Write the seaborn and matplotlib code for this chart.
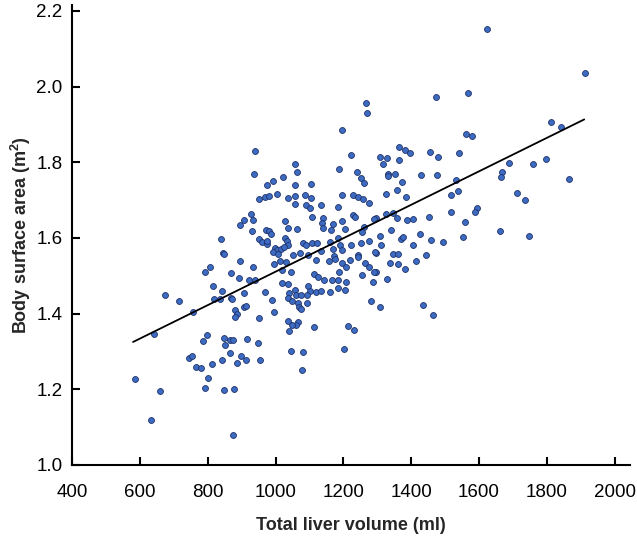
import matplotlib
matplotlib.use("Agg")
import matplotlib.pyplot as plt
import seaborn as sns
import pandas as pd

# Total liver volume (ml)
volume = [
    1268, 1271, 1195, 939, 1222, 1056,
    1622, 1473, 1568, 1561, 1579, 1365, 1382, 1397, 1454, 1478, 1541, 1309, 1328, 1365, 1317,
    1912, 1812, 1842, 1797, 1759, 1687,
    1866, 1711, 1736, 1747,
    1333, 1333, 1351, 1428, 1477, 1372, 1531, 1357, 1327, 1385, 1517, 1538, 1667, 1665, 1595,
    1587, 1517, 1295, 1327, 1346, 1358, 1387, 1406, 1453, 1559, 1340, 1307, 1369, 1377, 1426,
    1458, 1495, 1554, 1661, 1310, 1404, 1295, 1346, 1362, 1443, 1337, 1360, 1415, 1382, 1297,
    1329, 1307, 1436, 1464,
    906, 896, 838, 844, 847, 895, 808, 792, 868, 893, 817, 842, 906, 673, 716, 820, 837, 868,
    873, 908, 756, 880, 885, 880,
    641, 798, 786, 848, 865, 876, 852, 867, 897, 912, 886, 841, 814, 744, 755, 766, 780, 800,
    585, 659, 793, 849, 879, 632, 876,
    1036, 1067, 1059, 1050, 1039, 1113, 1213, 1230, 917, 947, 1045, 1080, 1203, 955, 1078,
    1062, 1186, 1241, 1253, 1260, 938, 1022, 994, 976, 1056, 1104, 952, 969, 981, 1003, 1038,
    1057, 1087, 1104, 1197, 1227, 1243, 1258, 1277, 1058, 1089, 1101, 1134, 1185, 927, 935,
    1028, 1109, 1141, 1170, 1138, 1196, 1227, 1233, 1290, 1038, 1063, 1140, 1163, 1204, 1261,
    1254, 930, 973, 981, 987, 1028, 950, 961, 974, 976, 1034, 1037, 1082, 1090, 1109, 1123,
    1160, 1185, 1190, 1224, 1251, 1276, 998, 1005, 1017, 1025, 994, 1007, 1053, 1073, 1095,
    1133, 1169, 1196, 1171, 1243, 1292, 933, 997, 1012, 1032, 1020, 1045, 1119, 1157, 1175,
    1197, 1220, 1243, 1265, 1276, 1289, 1208, 1188, 1113, 1126, 1142, 1166, 1185, 1209, 1256,
    1286, 922, 939, 1019, 1038, 1096, 1102, 1120, 1133, 1161, 1183, 1206, 970, 1039, 1056,
    1060, 1075, 1093, 1037, 1050, 1066, 1070, 1075, 1093, 991, 997, 1281, 912, 952,
]

# Body surface area (m2)
bsa = [
    1.957, 1.931, 1.886, 1.830, 1.818, 1.796,
    2.153, 1.973, 1.984, 1.875, 1.869, 1.840, 1.831, 1.824, 1.826, 1.815, 1.824, 1.813, 1.810, 1.806, 1.796,
    2.035, 1.905, 1.892, 1.808, 1.796, 1.798,
    1.756, 1.719, 1.699, 1.604,
    1.769, 1.763, 1.769, 1.767, 1.765, 1.747, 1.752, 1.727, 1.717, 1.707, 1.713, 1.723, 1.773, 1.760, 1.678,
    1.668, 1.668, 1.653, 1.663, 1.665, 1.653, 1.646, 1.651, 1.654, 1.642, 1.620, 1.606, 1.598, 1.602, 1.609,
    1.595, 1.588, 1.603, 1.618, 1.581, 1.580, 1.560, 1.557, 1.557, 1.554, 1.534, 1.531, 1.538, 1.517, 1.510,
    1.492, 1.418, 1.423, 1.395,
    1.646, 1.635, 1.596, 1.560, 1.557, 1.539, 1.523, 1.509, 1.507, 1.494, 1.474, 1.460, 1.454, 1.450, 1.432, 1.438, 1.438, 1.441,
    1.438, 1.417, 1.405, 1.409, 1.400, 1.392,
    1.345, 1.344, 1.328, 1.335, 1.330, 1.330, 1.317, 1.297, 1.288, 1.278, 1.269, 1.278, 1.266, 1.284, 1.287, 1.258, 1.256, 1.229,
    1.228, 1.196, 1.203, 1.198, 1.200, 1.118, 1.080,
    1.380, 1.378, 1.369, 1.369, 1.353, 1.365, 1.368, 1.357, 1.333, 1.322, 1.301, 1.298, 1.306, 1.278, 1.250,
    1.775, 1.781, 1.773, 1.759, 1.745, 1.769, 1.760, 1.751, 1.739, 1.741, 1.742, 1.703, 1.709, 1.712, 1.716, 1.706,
    1.712, 1.714, 1.705, 1.714, 1.713, 1.708, 1.703, 1.691, 1.689, 1.687, 1.678, 1.688, 1.681, 1.664, 1.646,
    1.644, 1.654, 1.653, 1.638, 1.639, 1.645, 1.660, 1.654, 1.651, 1.626, 1.623, 1.626, 1.622, 1.624, 1.630,
    1.615, 1.617, 1.622, 1.617, 1.610, 1.601, 1.596, 1.589, 1.585, 1.593, 1.591, 1.580, 1.587, 1.580, 1.586, 1.587,
    1.589, 1.599, 1.582, 1.582, 1.586, 1.593, 1.573, 1.567, 1.570, 1.575, 1.562, 1.557, 1.556, 1.559, 1.556,
    1.565, 1.570, 1.568, 1.551, 1.554, 1.564, 1.522, 1.531, 1.538, 1.536, 1.515, 1.510, 1.541, 1.538, 1.544,
    1.535, 1.542, 1.550, 1.533, 1.522, 1.510, 1.524, 1.509, 1.505, 1.496, 1.488, 1.488, 1.490, 1.483, 1.502,
    1.483, 1.490, 1.488, 1.481, 1.479, 1.474, 1.461, 1.457, 1.459, 1.458, 1.468, 1.462, 1.456, 1.454, 1.462,
    1.450, 1.450, 1.449, 1.441, 1.434, 1.429, 1.418, 1.413, 1.429, 1.435, 1.404, 1.432, 1.419, 1.388,
]

# Fitted regression line endpoints
fit_x = [580, 1910]
fit_y = [1.325, 1.913]

x_ticks = [400, 600, 800, 1000, 1200, 1400, 1600, 1800, 2000]
y_ticks = [1.0, 1.2, 1.4, 1.6, 1.8, 2.0, 2.2]

df = pd.DataFrame({"volume": volume, "bsa": bsa})
fit_df = pd.DataFrame({"x": fit_x, "y": fit_y})

sns.set_theme(style="ticks")
plt.rcParams["font.family"] = ["Liberation Sans", "DejaVu Sans"]

fig = plt.figure(figsize=(6.37, 5.41), dpi=100)
ax = fig.add_axes([0.113, 0.1405, 0.876, 0.85])

sns.scatterplot(data=df, x="volume", y="bsa", ax=ax, s=18,
                color="#3e6bc2", edgecolor="#1d3168", linewidth=0.6, zorder=3)
sns.lineplot(data=fit_df, x="x", y="y", ax=ax, color="black", linewidth=1.3, zorder=4)

ax.set_xlim(400, 2045)
ax.set_ylim(1.0, 2.215)
ax.set_xticks(x_ticks)
ax.set_yticks(y_ticks)
ax.set_xticklabels([str(t) for t in x_ticks])
ax.set_yticklabels([f"{t:.1f}" for t in y_ticks])

for side in ["top", "right"]:
    ax.spines[side].set_visible(False)
for side in ["left", "bottom"]:
    ax.spines[side].set_linewidth(1.5)
    ax.spines[side].set_color("black")

ax.tick_params(axis="both", direction="in", length=6, width=1.5, labelsize=13.5,
               colors="black")
ax.tick_params(axis="x", pad=14)
ax.tick_params(axis="y", pad=7)

ax.set_xlabel("Total liver volume (ml)", fontsize=13, fontweight="bold", labelpad=11)
ax.set_ylabel("Body surface area (m$^\\mathregular{2}$)", fontsize=13, fontweight="bold", labelpad=2)

fig.savefig("out.png", dpi=100)
